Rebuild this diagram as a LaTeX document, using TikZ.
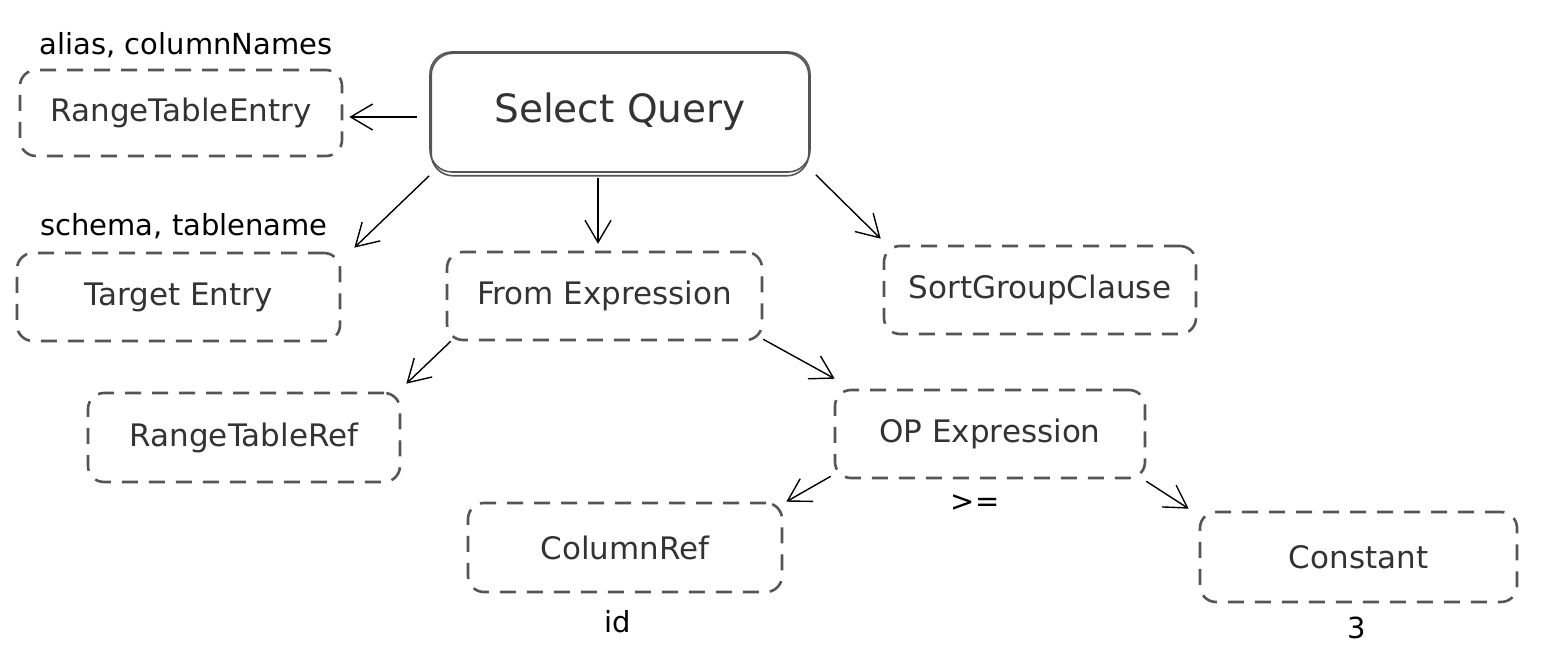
\documentclass[tikz,border=0pt]{standalone}
\usepackage{fontspec}
\setmainfont{DejaVu Sans}
\usetikzlibrary{arrows.meta}
\definecolor{boxgray}{HTML}{555555}
\definecolor{txtgray}{HTML}{333333}
\begin{document}
\begin{tikzpicture}[x=1pt,y=-1pt,
  dbox/.style={draw=boxgray, line width=2.6pt, dash pattern=on 16pt off 11pt, rounded corners=16pt, text=txtgray, font=\fontsize{31}{37}\selectfont, inner sep=0pt},
  lbl/.style={text=black, font=\fontsize{29}{35}\selectfont, inner sep=0pt},
  arr/.style={draw=black, line width=1.4pt, -{Straight Barb[length=22pt,width=26pt,line width=1.4pt]}},
  sk/.style={draw=boxgray, line width=1.6pt, rounded corners=22pt}
]
\useasboundingbox (0,0) rectangle (1544,668);
% main node
\node[sk, text=txtgray, minimum width=380pt, minimum height=120pt, inner sep=0pt, font=\fontsize{39}{47}\selectfont] (sq) at (620,112) {Select Query};
\draw[sk] ([shift={(2,2)}]sq.north west) rectangle ([shift={(-2,3)}]sq.south east);
% boxes
\node[dbox, minimum width=322pt, minimum height=86pt] (rte) at (181,113) {RangeTableEntry};
\node[dbox, minimum width=323pt, minimum height=88pt] (te) at (178.5,297) {Target Entry};
\node[dbox, minimum width=315pt, minimum height=88pt] (fe) at (604.5,296) {From Expression};
\node[dbox, minimum width=312pt, minimum height=88pt] (sgc) at (1040,290) {SortGroupClause};
\node[dbox, minimum width=312pt, minimum height=89pt] (rtr) at (244,437.5) {RangeTableRef};
\node[dbox, minimum width=310pt, minimum height=88pt] (ope) at (990,434) {OP Expression};
\node[dbox, minimum width=314pt, minimum height=89pt] (cr) at (625,547.5) {ColumnRef};
\node[dbox, minimum width=317pt, minimum height=90pt] (con) at (1358.5,557) {Constant};
% labels
\node[lbl] (l1) at (186,45) {alias, columnNames};
\node[lbl] (l2) at (184,226) {schema, tablename};
\node[lbl] (lge) at (975,503) {>=};
\node[lbl] (lid) at (618,622) {id};
\node[lbl] (l3) at (1357,628) {3};
% arrows
\draw[arr] ([shift={(-12,5)}]sq.west) -- ([shift={(6,4)}]rte.east);
\draw[arr] ([shift={(0,3)}]sq.south west) -- ([shift={(13,-4)}]te.north east);
\draw[arr] ([shift={(-22,5)}]sq.south) -- ([shift={(-6.5,-7)}]fe.north);
\draw[arr] ([shift={(5,2)}]sq.south east) -- ([shift={(-2,-6)}]sgc.north west);
\draw[arr] ([shift={(5,0)}]fe.south west) -- ([shift={(5,-8)}]rtr.north east);
\draw[arr] ([shift={(0,-2)}]fe.south east) -- ([shift={(1,-10)}]ope.north west);
\draw[arr] ([shift={(-3,-3)}]ope.south west) -- ([shift={(3,0)}]cr.north east);
\draw[arr] ([shift={(0,2)}]ope.south east) -- ([shift={(-10,-2)}]con.north west);
\end{tikzpicture}
\end{document}
